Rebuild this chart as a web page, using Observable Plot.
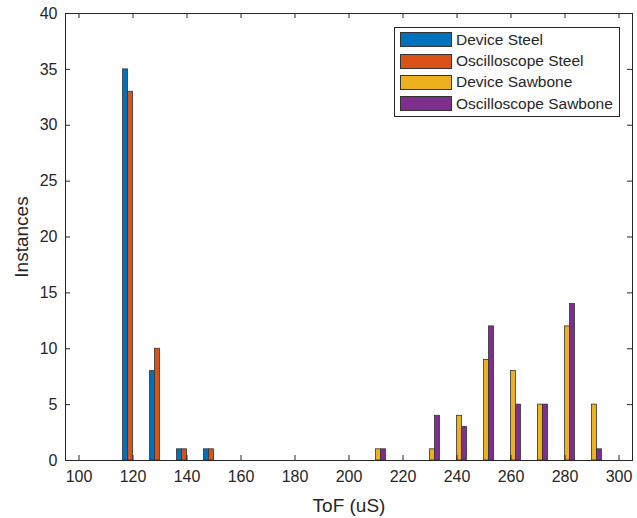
<!DOCTYPE html>
<html>
<head>
<meta charset="utf-8">
<script src="https://cdn.jsdelivr.net/npm/d3@7"></script>
<script src="https://cdn.jsdelivr.net/npm/@observablehq/plot@0.6"></script>
<style>
  html, body { margin: 0; padding: 0; background: #fff; }
  #wrap { position: relative; width: 637px; height: 518px; font-family: "Liberation Sans", Arial, sans-serif; }
  #legend { position: absolute; left: 394px; top: 27px; width: 226px; height: 90px; border: 1px solid #262626; background: #fff; box-sizing: border-box; padding-top: 1px; }
  .item { display: flex; align-items: center; height: 21.4px; }
  .sw { width: 52px; height: 15px; margin-left: 5px; margin-right: 4px; border: 1px solid #333; box-sizing: border-box; }
  .lab { font-size: 15.5px; color: #262626; white-space: nowrap; }
</style>
</head>
<body>
<div id="wrap"></div>
<script>
const bins = [120, 130, 140, 150, 210, 230, 240, 250, 260, 270, 280, 290];
const seriesNames = ["Device Steel", "Oscilloscope Steel", "Device Sawbone", "Oscilloscope Sawbone"];
const seriesColors = ["#0072BD", "#D95319", "#EDB120", "#7E2F8E"];
const deviceSteel = [35, 8, 1, 1, 0, 0, 0, 0, 0, 0, 0, 0];
const oscilloscopeSteel = [33, 10, 1, 1, 0, 0, 0, 0, 0, 0, 0, 0];
const deviceSawbone = [0, 0, 0, 0, 1, 1, 4, 9, 8, 5, 12, 5];
const oscilloscopeSawbone = [0, 0, 0, 0, 1, 4, 3, 12, 5, 5, 14, 1];
const xTicks = [100, 120, 140, 160, 180, 200, 220, 240, 260, 280, 300];
const yTicks = [0, 5, 10, 15, 20, 25, 30, 35, 40];

const allSeries = [deviceSteel, oscilloscopeSteel, deviceSawbone, oscilloscopeSawbone];
const barW = 1.85; // bar width in ToF units (grouped bar layout)
const rows = [];
allSeries.forEach((vals, si) => {
  vals.forEach((v, bi) => {
    if (v > 0) {
      const c = bins[bi] + (si - 1.5) * barW;
      rows.push({series: seriesNames[si], x1: c - barW / 2, x2: c + barW / 2, y: v});
    }
  });
});

const W = 637, H = 518, mL = 65, mR = 5, mT = 13, mB = 58;
const innerH = H - mT - mB;
const innerW = W - mL - mR;
const ink = "#262626";

const chart = Plot.plot({
  width: W,
  height: H,
  marginLeft: mL,
  marginRight: mR,
  marginTop: mT,
  marginBottom: mB,
  style: {fontFamily: "'Liberation Sans', Arial, sans-serif", fontSize: "16px", color: ink, background: "#fff"},
  x: {domain: [95, 305]},
  y: {domain: [0, 40]},
  color: {domain: seriesNames, range: seriesColors},
  marks: [
    Plot.rectY(rows, {x1: "x1", x2: "x2", y1: 0, y2: "y", fill: "series", stroke: "#333", strokeWidth: 0.8}),
    // inward ticks on all four sides
    Plot.ruleX(xTicks, {x: d => d, insetTop: innerH - 5, stroke: ink}),
    Plot.ruleX(xTicks, {x: d => d, insetBottom: innerH - 5, stroke: ink}),
    Plot.ruleY(yTicks, {y: d => d, insetRight: innerW - 5, stroke: ink}),
    Plot.ruleY(yTicks, {y: d => d, insetLeft: innerW - 5, stroke: ink}),
    Plot.axisX({ticks: xTicks, tickSize: 0, tickPadding: 10, fontSize: 16, label: "ToF (uS)", labelAnchor: "center", labelArrow: "none", labelOffset: 51}),
    Plot.axisY({ticks: yTicks, tickSize: 0, tickPadding: 8, fontSize: 16, label: "Instances", labelAnchor: "center", labelArrow: "none", labelOffset: 51}),
    Plot.frame({stroke: ink, strokeWidth: 1})
  ]
});
d3.select(chart).selectAll("g[aria-label='x-axis label'] text, g[aria-label='y-axis label'] text").style("font-size", "19px");
document.getElementById("wrap").appendChild(chart);

const legend = document.createElement("div");
legend.id = "legend";
seriesNames.forEach((n, i) => {
  const item = document.createElement("div");
  item.className = "item";
  const sw = document.createElement("div");
  sw.className = "sw";
  sw.style.background = seriesColors[i];
  const lab = document.createElement("span");
  lab.className = "lab";
  lab.textContent = n;
  item.appendChild(sw);
  item.appendChild(lab);
  legend.appendChild(item);
});
document.getElementById("wrap").appendChild(legend);
</script>
</body>
</html>
